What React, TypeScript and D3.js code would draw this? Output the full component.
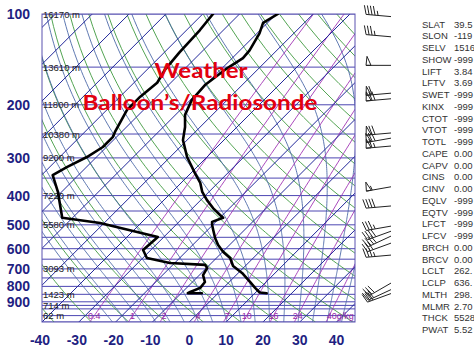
import React from 'react';
import * as d3 from 'd3';

// ---------- data ----------
const pressureTicks = [100, 200, 300, 400, 500, 600, 700, 800, 900];
const tempTicks = [-40, -30, -20, -10, 0, 10, 20, 30, 40];
const isobarLevels = [100, 150, 200, 250, 300, 350, 400, 450, 500, 550, 600, 650, 700, 750, 800, 850, 900, 925, 950, 1000, 1050];
const heightLevels = [100, 150, 200, 250, 300, 400, 500, 700, 850, 925, 1000];
const heightTexts = ['16170 m', '13610 m', '11800 m', '10380 m', '9200 m', '7220 m', '5580 m', '3093 m', '1423 m', '714 m', '62 m'];
const mixingRatios = [0.4, 1, 2, 4, 7, 10, 16, 24, 40];
const mixingLabels = ['0.4', '1', '2', '4', '7', '10', '16', '24', '40g/kg'];

const tempP = [100, 107, 116, 132, 140, 153, 172, 193, 216, 237, 262, 298, 337, 363, 389, 414, 440, 464, 474, 489, 500, 520, 553, 583, 615, 644, 685, 722, 774, 809, 838, 843];
const tempT = [-59.6, -61.2, -59.3, -57.4, -57.1, -58.8, -60.1, -59.6, -57.4, -54.1, -51.1, -45.4, -38.9, -34.8, -31.8, -28.3, -24.5, -20.7, -19.1, -21.0, -20.2, -18.5, -15.8, -13.1, -9.8, -6.3, -3.3, 1.0, 5.7, 8.6, 11.1, 13.2];

const dewP = [100, 113, 134, 153, 169, 188, 208, 246, 256, 276, 298, 322, 342, 389, 474, 493, 500, 549, 606, 644, 669, 679, 695, 734, 774, 809, 835, 843, 843];
const dewT = [-77.2, -76.4, -75.9, -75.1, -73.7, -74.5, -74.5, -71.8, -71.0, -71.0, -72.6, -75.3, -77.0, -71.0, -62.8, -51.1, -48.7, -31.6, -32.1, -28.9, -21.3, -11.2, -9.8, -9.0, -6.6, -6.3, -7.9, -8.2, -4.4];

const windP = [102, 119, 148, 183, 191, 248, 258, 274, 374, 433, 505, 525, 545, 575, 630, 780, 820, 845];
const windDir = [275, 275, 270, 265, 265, 265, 260, 265, 260, 265, 260, 250, 245, 250, 265, 240, 245, 250];
const windSpd = [45, 35, 50, 60, 70, 70, 70, 65, 55, 40, 35, 40, 40, 30, 35, 30, 30, 30];

const statLabels = ['SLAT', 'SLON', 'SELV', 'SHOW', 'LIFT', 'LFTV', 'SWET', 'KINX', 'CTOT', 'VTOT', 'TOTL', 'CAPE', 'CAPV', 'CINS', 'CINV', 'EQLV', 'EQTV', 'LFCT', 'LFCV', 'BRCH', 'BRCV', 'LCLT', 'LCLP', 'MLTH', 'MLMR', 'THCK', 'PWAT'];
const statValues = ['39.5', '-119', '1516', '-999', '3.84', '3.69', '-999', '-999', '-999', '-999', '-999', '0.00', '0.00', '0.00', '0.00', '-999', '-999', '-999', '-999', '0.00', '0.00', '262.', '636.', '298.', '2.70', '5528', '5.52'];

const isothermValues = d3.range(-130, 50, 10);
const dryThetaC = d3.range(-40, 190, 10);
const moistStartT = d3.range(-24, 44, 4);

// ---------- geometry ----------
const W = 474, H = 355;
const L = 42, R = 355, TOP = 14, BOT = 322;

const yS = d3.scaleLog().domain([1050, 100]).range([BOT, TOP]);
const xS = d3.scaleLinear().domain([-40, 45]).range([L, R]);
const sx = (T: number, p: number) => xS(T) + (BOT - yS(p));

const lineGen = d3.line<[number, number]>().x(d => sx(d[0], d[1])).y(d => yS(d[1]));

function satVap(Tc: number) { return 6.112 * Math.exp(17.67 * Tc / (Tc + 243.5)); }
function mixTemp(w: number, p: number) {
  const r = w / 1000;
  const e = r * p / (0.622 + r);
  const l = Math.log(e / 6.112);
  return 243.5 * l / (17.67 - l);
}
function moistLapse(Tk: number, p: number) {
  const Rd = 287.04, Cp = 1005.7, Lv = 2.501e6, eps = 0.622;
  const es = satVap(Tk - 273.15);
  const rs = eps * es / (p - es);
  return (Rd * Tk + Lv * rs) / (p * (Cp + Lv * Lv * rs * eps / (Rd * Tk * Tk)));
}
function moistAdiabat(T0: number): [number, number][] {
  const up: [number, number][] = [];
  let T = T0 + 273.15;
  for (let p = 1000; p >= 100; p -= 5) {
    up.push([T - 273.15, p]);
    const k1 = moistLapse(T, p);
    const k2 = moistLapse(T - k1 * 2.5, p - 2.5);
    T -= k2 * 5;
  }
  const down: [number, number][] = [];
  T = T0 + 273.15;
  for (let p = 1000; p <= 1050; p += 5) {
    const k = moistLapse(T, p);
    T += k * 5;
    down.push([T - 273.15, p + 5]);
  }
  return [...down.reverse(), ...up];
}

function barb(cx: number, cy: number, dir: number, spd: number) {
  const len = 25;
  const rad = dir * Math.PI / 180;
  const ux = Math.sin(rad), uy = -Math.cos(rad);
  const nx = -uy, ny = ux;
  const pt = (d: number) => [cx + ux * d, cy + uy * d];
  let path = `M${cx},${cy}L${cx + ux * len},${cy + uy * len}`;
  let s = Math.round(spd / 5) * 5;
  let d = len;
  const polys: string[] = [];
  while (s >= 50) {
    const a = pt(d), b = pt(d - 5);
    const c = pt(d - 1);
    polys.push(`M${a[0]},${a[1]}L${c[0] + nx * 9},${c[1] + ny * 9}L${b[0]},${b[1]}Z`);
    d -= 6; s -= 50;
  }
  while (s >= 10) {
    const a = pt(d);
    path += `M${a[0]},${a[1]}l${nx * 9 + ux * 2.5},${ny * 9 + uy * 2.5}`;
    d -= 3; s -= 10;
  }
  if (s >= 5) {
    if (d === len) d -= 3;
    const a = pt(d);
    path += `M${a[0]},${a[1]}l${nx * 4.5 + ux * 1.2},${ny * 4.5 + uy * 1.2}`;
  }
  return { path, polys };
}

export default function App() {
  const pRange = d3.range(100, 1051, 10);
  return (
    <svg width={W} height={H} style={{ position: 'absolute', left: 0, top: 0, background: '#fff' }}>
      <defs>
        <clipPath id="plotclip"><rect x={L} y={TOP} width={R - L} height={BOT - TOP} /></clipPath>
      </defs>
      <rect x={0} y={0} width={W} height={H} fill="#fff" />
      <g clipPath="url(#plotclip)" fill="none">
        {isobarLevels.map(p => (
          <line key={'ib' + p} x1={L} x2={R} y1={yS(p)} y2={yS(p)} stroke="#4c46b2" strokeWidth={1} />
        ))}
        {dryThetaC.map(th => {
          const pts: [number, number][] = pRange.map(p => [(th + 273.15) * Math.pow(p / 1000, 0.2857) - 273.15, p]);
          return <path key={'da' + th} d={lineGen(pts) || ''} stroke="#3f9a3f" strokeWidth={0.9} />;
        })}
        {moistStartT.map(t => (
          <path key={'ma' + t} d={lineGen(moistAdiabat(t)) || ''} stroke="#4d6aa8" strokeWidth={0.9} />
        ))}
        {mixingRatios.map(w => {
          const pts: [number, number][] = pRange.map(p => [mixTemp(w, p), p]);
          return <path key={'mr' + w} d={lineGen(pts) || ''} stroke="#a034b4" strokeWidth={0.9} />;
        })}
        {isothermValues.map(t => (
          <line key={'it' + t} x1={sx(t, 1050)} y1={yS(1050)} x2={sx(t, 100)} y2={yS(100)} stroke="#22289a" strokeWidth={1} />
        ))}
      </g>
      <rect x={L} y={TOP} width={R - L} height={BOT - TOP} fill="none" stroke="#5a52b0" strokeWidth={1} />

      {heightLevels.map((p, i) => (
        <text key={'hl' + p} x={L + 1} y={yS(p) + 3.5} fontSize={9.5} fontFamily="Liberation Sans, Arial, sans-serif" fill="#222">{heightTexts[i]}</text>
      ))}
      {mixingRatios.map((w, i) => (
        <text key={'ml' + w} x={sx(mixTemp(w, 1000), 1000) + (i === mixingRatios.length - 1 ? 11 : 0)} y={yS(1000) + 3} fontSize={9} textAnchor="middle" fontFamily="Liberation Sans, Arial, sans-serif" fill="#9a2aa8">{mixingLabels[i]}</text>
      ))}

      <g clipPath="url(#plotclip)" fill="none" stroke="#000" strokeWidth={2.6} strokeLinejoin="round" strokeLinecap="round">
        <path d={lineGen(tempP.map((p, i) => [tempT[i], p] as [number, number])) || ''} />
        <path d={lineGen(dewP.map((p, i) => [dewT[i], p] as [number, number])) || ''} />
      </g>

      <g fontFamily="Liberation Sans, Arial, sans-serif" fontWeight="bold" fontSize={14} fill="#1f1f82">
        {pressureTicks.map(p => (
          <text key={'py' + p} x={30} y={yS(p) + 5} textAnchor="end">{p}</text>
        ))}
        {tempTicks.map(t => (
          <text key={'tx' + t} x={xS(t) - (t < 0 ? 2 : 0)} y={345} textAnchor="middle">{t}</text>
        ))}
      </g>

      <g fontFamily="Lato, 'Open Sans', sans-serif" fontWeight="bold" fontSize={21} fill="#e3000f" textAnchor="middle">
        <text x={201} y={78} textLength={93} lengthAdjust="spacingAndGlyphs">Weather</text>
        <text x={200} y={110} textLength={235} lengthAdjust="spacingAndGlyphs">Balloon’s/Radiosonde</text>
      </g>

      <g stroke="#222" strokeWidth={1} fill="none">
        {windP.map((p, i) => {
          const b = barb(391, yS(p), windDir[i], windSpd[i]);
          return (
            <g key={'wb' + i}>
              <path d={b.path} />
              {b.polys.map((q, j) => <path key={j} d={q} fill="none" />)}
            </g>
          );
        })}
      </g>

      <g fontFamily="Liberation Sans, Arial, sans-serif" fontSize={9.5} fill="#333">
        {statLabels.map((s, i) => (
          <g key={'st' + s}>
            <text x={422} y={24 + i * 11.75 + 3.5}>{s}</text>
            <text x={454} y={24 + i * 11.75 + 3.5}>{statValues[i]}</text>
          </g>
        ))}
      </g>
    </svg>
  );
}
